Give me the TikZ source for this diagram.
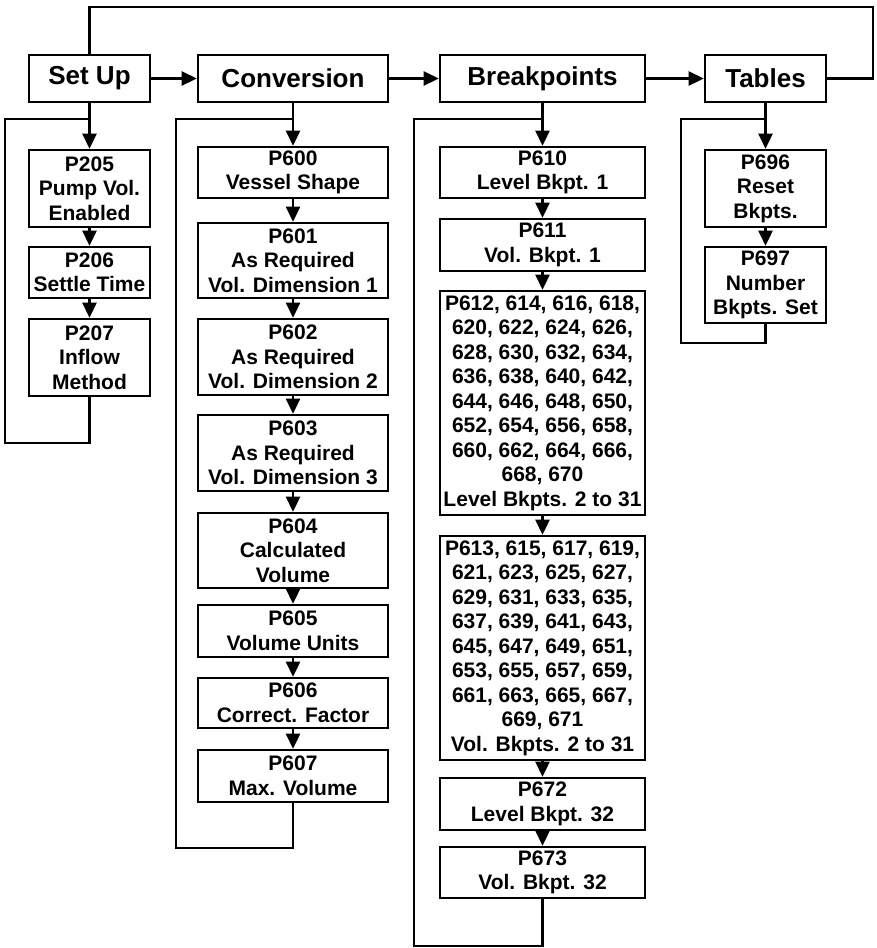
\documentclass[tikz,border=0pt]{standalone}
\usepackage{fontspec}
\setmainfont{Liberation Sans}
\usetikzlibrary{arrows.meta}

\tikzset{
  conn/.style={line width=1.3pt},
  arr/.style={conn,-{Triangle[length=7.5pt,width=7pt]}},
  hdr/.style={draw,line width=1.3pt,inner sep=0pt,minimum height=23.5pt,
    font=\fontsize{13}{15}\selectfont\bfseries},
  pbox/.style={draw,line width=1.3pt,inner sep=0pt,align=center,
    font=\fontsize{10.5}{12.25}\selectfont\bfseries}
}

\begin{document}
\begin{tikzpicture}[x=0.5pt,y=-0.5pt]
  \useasboundingbox (0,0) rectangle (877,948);
  \def\narrow{60.5pt}
  \def\convw{95pt}
  \def\bkptw{102.5pt}

  % top row
  \node[hdr,minimum width=\narrow] (setup) at (89.5,78.5) {Set Up};
  \node[hdr,minimum width=\convw] (conv) at (293,78.5) {Conversion};
  \node[hdr,minimum width=\bkptw] (bkpt) at (542.5,78.5) {Breakpoints};
  \node[hdr,minimum width=\narrow] (tables) at (765.5,78.5) {Tables};
  \draw[arr] (setup) -- (conv);
  \draw[arr] (conv) -- (bkpt);
  \draw[arr] (bkpt) -- (tables);
  \coordinate (topc) at (873,7);
  \draw[conn] (tables.east) -| (topc) -| (setup.north);

  % set up column
  \node[pbox,minimum width=\narrow,minimum height=38.5pt] (p205) at (89.5,188.5) {P205\\Pump Vol.\\Enabled};
  \node[pbox,minimum width=\narrow,minimum height=25.5pt] (p206) at (89.5,272.5) {P206\\Settle Time};
  \node[pbox,minimum width=\narrow,minimum height=38.5pt] (p207) at (89.5,357.5) {P207\\Inflow\\Method};
  \coordinate (sjoin) at (89.5,119);
  \coordinate (sbot) at (5,443);
  \draw[conn] (p207.south) |- (sbot) |- (sjoin);
  \foreach \a/\b in {setup/p205,p205/p206,p206/p207}
    \draw[arr] (\a) -- (\b);

  % conversion column
  \node[pbox,minimum width=\convw,minimum height=25.5pt] (p600) at (293,172.5) {P600\\Vessel Shape};
  \node[pbox,minimum width=\convw,minimum height=37.5pt] (p601) at (293,260.5) {P601\\As Required\\Vol. Dimension 1};
  \node[pbox,minimum width=\convw,minimum height=38pt] (p602) at (293,357) {P602\\As Required\\Vol. Dimension 2};
  \node[pbox,minimum width=\convw,minimum height=38pt] (p603) at (293,453) {P603\\As Required\\Vol. Dimension 3};
  \node[pbox,minimum width=\convw,minimum height=37.5pt] (p604) at (293,550.5) {P604\\Calculated\\Volume};
  \node[pbox,minimum width=\convw,minimum height=26pt] (p605) at (293,631) {P605\\Volume Units};
  \node[pbox,minimum width=\convw,minimum height=25pt] (p606) at (293,703) {P606\\Correct. Factor};
  \node[pbox,minimum width=\convw,minimum height=26pt] (p607) at (293,776) {P607\\Max. Volume};
  \coordinate (cjoin) at (293,119);
  \coordinate (cbot) at (176,848);
  \draw[conn] (p607.south) |- (cbot) |- (cjoin);
  \foreach \a/\b in {conv/p600,p600/p601,p601/p602,p602/p603,p603/p604,p604/p605,p605/p606,p606/p607}
    \draw[arr] (\a) -- (\b);

  % breakpoints column
  \node[pbox,minimum width=\bkptw,minimum height=25.5pt] (p610) at (542.5,172.5) {P610\\Level Bkpt. 1};
  \node[pbox,minimum width=\bkptw,minimum height=26pt] (p611) at (542.5,245) {P611\\Vol. Bkpt. 1};
  \node[pbox,minimum width=\bkptw,minimum height=112pt] (p612) at (542.5,403)
    {P612, 614, 616, 618,\\620, 622, 624, 626,\\628, 630, 632, 634,\\636, 638, 640, 642,\\644, 646, 648, 650,\\652, 654, 656, 658,\\660, 662, 664, 666,\\668, 670\\Level Bkpts. 2 to 31};
  \node[pbox,minimum width=\bkptw,minimum height=112pt] (p613) at (542.5,648)
    {P613, 615, 617, 619,\\621, 623, 625, 627,\\629, 631, 633, 635,\\637, 639, 641, 643,\\645, 647, 649, 651,\\653, 655, 657, 659,\\661, 663, 665, 667,\\669, 671\\Vol. Bkpts. 2 to 31};
  \node[pbox,minimum width=\bkptw,minimum height=26pt] (p672) at (542.5,804) {P672\\Level Bkpt. 32};
  \node[pbox,minimum width=\bkptw,minimum height=25.5pt] (p673) at (542.5,872.5) {P673\\Vol. Bkpt. 32};
  \coordinate (bjoin) at (542.5,119);
  \coordinate (bbot) at (414,946);
  \draw[conn] (p673.south) |- (bbot) |- (bjoin);
  \foreach \a/\b in {bkpt/p610,p610/p611,p611/p612,p612/p613,p613/p672,p672/p673}
    \draw[arr] (\a) -- (\b);

  % tables column
  \node[pbox,minimum width=\narrow,minimum height=38.5pt] (p696) at (765.5,188.5) {P696\\Reset\\Bkpts.};
  \node[pbox,minimum width=\narrow,minimum height=38pt] (p697) at (765.5,285) {P697\\Number\\Bkpts. Set};
  \coordinate (tjoin) at (765.5,119);
  \coordinate (tbot) at (681,343);
  \draw[conn] (p697.south) |- (tbot) |- (tjoin);
  \foreach \a/\b in {tables/p696,p696/p697}
    \draw[arr] (\a) -- (\b);
\end{tikzpicture}
\end{document}
